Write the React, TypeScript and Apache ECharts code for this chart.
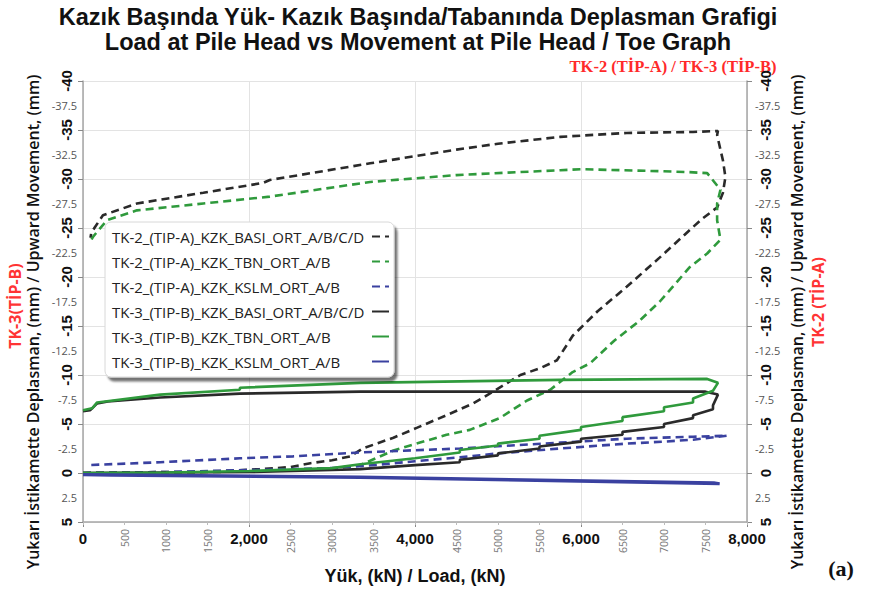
import React, { useEffect, useRef } from "react";
import * as echarts from "echarts";

// ---- Load (kN) / displacement (mm) readings, negative = upward ----
// TK-2 (TİP-A) pile head
const tk2BasiLoad = [0, 500, 1000, 1330, 1800, 2130, 2500, 2740, 3000, 3220, 3370, 3740, 4020, 4380, 4700, 4940, 5270, 5510, 5710, 5900, 6200, 6550, 6950, 7350, 7470, 7640, 7710, 7740, 7710, 7680, 7640, 7650, 7350, 6550, 5750, 5000, 4500, 3460, 2250, 2170, 1450, 650, 240, 145, 100, 90];
const tk2BasiDisp = [0, -0.05, -0.1, -0.1, -0.25, -0.4, -0.6, -1.0, -1.3, -1.7, -2.5, -3.6, -4.6, -5.9, -7.1, -8.3, -10.0, -10.7, -11.5, -14.0, -16.5, -19.0, -22.0, -25.1, -26.0, -27.1, -28.6, -30.2, -31.9, -33.0, -34.5, -34.9, -34.8, -34.7, -34.3, -33.6, -33.0, -31.6, -29.9, -29.6, -28.6, -27.5, -26.3, -25.1, -24.5, -24.0];

// TK-2 (TİP-A) pile toe
const tk2TbnLoad = [0, 1000, 2000, 2530, 3000, 3340, 3500, 3740, 4060, 4380, 4660, 5020, 5350, 5630, 5900, 6110, 6400, 6700, 6950, 7310, 7520, 7680, 7640, 7640, 7680, 7520, 7300, 6950, 6000, 5750, 4500, 3460, 2250, 1450, 650, 290, 170, 120, 90];
const tk2TbnDisp = [0, -0.05, -0.15, -0.3, -0.45, -0.8, -1.4, -2.3, -3.1, -3.9, -4.4, -5.6, -7.4, -8.5, -10.3, -11.2, -13.5, -15.5, -17.5, -21.0, -22.4, -23.8, -25.8, -27.5, -28.9, -30.6, -30.7, -30.8, -31.0, -30.9, -30.4, -29.7, -28.2, -27.5, -26.8, -25.8, -24.6, -24.1, -23.6];

// TK-2 (TİP-A) shortening
const tk2KslmLoad = [0, 1000, 2000, 3000, 3500, 4000, 4540, 5000, 5750, 6550, 7000, 7350, 7760, 7350, 6550, 5750, 4540, 3340, 2530, 1890, 930, 50];
const tk2KslmDisp = [0, -0.1, -0.3, -0.5, -0.8, -1.2, -1.6, -2.0, -2.5, -3.0, -3.2, -3.4, -3.8, -3.7, -3.5, -3.1, -2.5, -2.1, -1.7, -1.5, -1.1, -0.8];

// TK-3 (TİP-B) pile head
const tk3BasiLoad = [0, 1000, 2000, 3000, 3340, 4000, 4540, 4540, 5000, 5000, 5500, 5500, 6000, 6000, 6500, 6500, 7000, 7000, 7350, 7350, 7590, 7590, 7650, 7500, 6000, 3340, 1890, 930, 300, 170, 110, 85, 0];
const tk3BasiDisp = [0, -0.05, -0.1, -0.3, -0.4, -0.8, -1.1, -1.35, -1.8, -2.0, -2.5, -2.7, -3.2, -3.5, -3.9, -4.2, -4.7, -5.0, -5.6, -5.9, -6.5, -6.9, -8.0, -8.3, -8.3, -8.3, -8.1, -7.7, -7.3, -7.1, -6.6, -6.4, -6.3];

// TK-3 (TİP-B) pile toe
const tk3TbnLoad = [0, 1000, 2000, 3000, 3340, 4000, 4540, 4540, 5000, 5000, 5500, 5500, 6000, 6000, 6500, 6500, 7000, 7000, 7350, 7350, 7590, 7650, 7520, 5750, 3340, 1890, 1890, 930, 170, 110, 0];
const tk3TbnDisp = [0, -0.05, -0.2, -0.5, -0.9, -1.5, -2.1, -2.35, -2.8, -3.0, -3.5, -3.8, -4.4, -4.7, -5.3, -5.7, -6.3, -6.7, -7.2, -7.6, -8.4, -9.2, -9.6, -9.5, -9.2, -8.7, -8.5, -8.0, -7.2, -6.6, -6.4];

// TK-3 (TİP-B) shortening
const tk3KslmLoad = [0, 3340, 7670, 7600, 3340, 0];
const tk3KslmDisp = [0.2, 0.45, 1.1, 1.0, 0.4, 0.15];

const seriesNames = [
  "TK-2_(TIP-A)_KZK_BASI_ORT_A/B/C/D",
  "TK-2_(TIP-A)_KZK_TBN_ORT_A/B",
  "TK-2_(TIP-A)_KZK_KSLM_ORT_A/B",
  "TK-3_(TIP-B)_KZK_BASI_ORT_A/B/C/D",
  "TK-3_(TIP-B)_KZK_TBN_ORT_A/B",
  "TK-3_(TIP-B)_KZK_KSLM_ORT_A/B",
];

const titleLines = [
  "Kazık Başında Yük- Kazık Başında/Tabanında Deplasman Grafigi",
  "Load at Pile Head vs Movement at Pile Head / Toe Graph",
];
const xAxisTitle = "Yük, (kN) / Load, (kN)";
const yAxisTitle = "Yukarı İstikamette Deplasman, (mm) / Upward Movement, (mm)";

const BLACK = "#2a2a2a";
const GREEN = "#2f9a3c";
const BLUE = "#3a41a0";
const SANS = "'Liberation Sans', Arial, sans-serif";
const CAL = "'Open Sans', 'Noto Sans', sans-serif";
const SERIF = "'Liberation Serif', 'Times New Roman', serif";

const pairs = (xs: number[], ys: number[]) => xs.map((x, i) => [x, ys[i]]);

export default function App() {
  const ref = useRef<HTMLDivElement>(null);

  useEffect(() => {
    if (!ref.current) return;
    const chart = echarts.init(ref.current, null, { renderer: "svg" });

    const lineSeries = (name: string, data: number[][], color: string, dashed: boolean, width = 2.6) => ({
      name,
      type: "line",
      data,
      symbol: "none",
      showSymbol: false,
      smooth: false,
      xAxisIndex: 0,
      yAxisIndex: 0,
      lineStyle: { color, width, type: dashed ? [8, 5] : "solid" },
      itemStyle: { color },
      z: 3,
    });

    const majorY = {
      type: "value",
      inverse: true,
      min: -40,
      max: 5,
      interval: 5,
      axisLine: { show: true, onZero: false, lineStyle: { color: "#a6a6a6", width: 1.5 } },
      axisTick: { show: true, length: 5, lineStyle: { color: "#888" } },
      axisLabel: {
        rotate: 90,
        fontSize: 15,
        fontWeight: "bold",
        fontFamily: SANS,
        color: "#111",
        formatter: (v: number) => String(v),
      },
    };
    const minorY = {
      type: "value",
      inverse: true,
      min: -40,
      max: 5,
      interval: 2.5,
      axisLine: { show: false },
      axisTick: { show: false },
      splitLine: { show: false },
      axisLabel: {
        fontSize: 11,
        fontFamily: CAL,
        color: "#555",
        formatter: (v: number) => (v % 5 === 0 ? "" : String(v)),
      },
    };

    chart.setOption({
      animation: false,
      backgroundColor: "#ffffff",
      title: {
        text: titleLines.join("\n"),
        left: 413,
        top: -1,
        textAlign: "center",
        textStyle: { fontFamily: SANS, fontWeight: "bold", fontSize: 23.5, lineHeight: 25, color: "#111" },
      },
      grid: { left: 83, right: 144, top: 81, bottom: 69, containLabel: false },
      legend: {
        orient: "vertical",
        left: 105,
        top: 222,
        align: "right",
        data: seriesNames,
        itemWidth: 17,
        itemHeight: 14,
        itemGap: 10,
        padding: [7, 4, 8, 7],
        backgroundColor: "#ffffff",
        borderColor: "#d8d8d8",
        borderWidth: 1,
        borderRadius: 6,
        shadowColor: "rgba(0,0,0,0.55)",
        shadowBlur: 2,
        shadowOffsetX: 3,
        shadowOffsetY: 4,
        itemStyle: { opacity: 0 },
        formatter: (name: string) => `{a|${name}}`,
        textStyle: {
          rich: { a: { width: 255, align: "left", fontSize: 15, lineHeight: 16, fontFamily: CAL, color: "#222" } },
        },
      },
      xAxis: [
        {
          type: "value",
          min: 0,
          max: 8000,
          interval: 2000,
          position: "bottom",
          name: xAxisTitle,
          nameLocation: "middle",
          nameGap: 45,
          nameTextStyle: { fontFamily: SANS, fontWeight: "bold", fontSize: 18, color: "#111" },
          axisLine: { show: true, onZero: false, lineStyle: { color: "#a6a6a6", width: 1.5 } },
          axisTick: { show: true, length: 5, lineStyle: { color: "#888" } },
          splitLine: { show: true, lineStyle: { color: "#e3e3e3" } },
          axisLabel: {
            margin: 9,
            fontSize: 15,
            fontWeight: "bold",
            fontFamily: SANS,
            color: "#111",
            formatter: (v: number) => v.toLocaleString("en-US"),
          },
        },
        {
          type: "value",
          min: 0,
          max: 8000,
          interval: 500,
          position: "bottom",
          axisLine: { show: false, onZero: false },
          axisTick: { show: true, length: 3, lineStyle: { color: "#bbb" } },
          splitLine: { show: false },
          axisLabel: {
            rotate: 90,
            margin: 7,
            fontSize: 10.5,
            fontFamily: CAL,
            color: "#777",
            formatter: (v: number) => (v % 2000 === 0 ? "" : String(v)),
          },
        },
      ],
      yAxis: [
        {
          ...majorY,
          position: "left",
          splitLine: { show: true, lineStyle: { color: "#e3e3e3" } },
          axisLabel: { ...majorY.axisLabel, margin: 9 },
        },
        { ...minorY, position: "left", axisLabel: { ...minorY.axisLabel, margin: 6 } },
        {
          ...majorY,
          position: "right",
          splitLine: { show: false },
          axisLabel: { ...majorY.axisLabel, margin: 11 },
        },
        { ...minorY, position: "right", axisLabel: { ...minorY.axisLabel, margin: 8 } },
      ],
      series: [
        lineSeries(seriesNames[0], pairs(tk2BasiLoad, tk2BasiDisp), BLACK, true),
        lineSeries(seriesNames[1], pairs(tk2TbnLoad, tk2TbnDisp), GREEN, true),
        lineSeries(seriesNames[2], pairs(tk2KslmLoad, tk2KslmDisp), BLUE, true),
        lineSeries(seriesNames[3], pairs(tk3BasiLoad, tk3BasiDisp), BLACK, false),
        lineSeries(seriesNames[4], pairs(tk3TbnLoad, tk3TbnDisp), GREEN, false),
        lineSeries(seriesNames[5], pairs(tk3KslmLoad, tk3KslmDisp), BLUE, false, 3),
      ],
      graphic: [
        {
          type: "text",
          x: 673,
          y: 66,
          style: {
            text: "TK-2 (TİP-A) / TK-3 (TİP-B)",
            fill: "#ff2a2a",
            font: `bold 16.5px ${SERIF}`,
            align: "center",
            verticalAlign: "middle",
          },
        },
        {
          type: "text",
          x: 33,
          y: 322,
          rotation: Math.PI / 2,
          style: { text: yAxisTitle, fill: "#111", font: `600 16px ${CAL}`, align: "center", verticalAlign: "middle" },
        },
        {
          type: "text",
          x: 15,
          y: 306,
          rotation: Math.PI / 2,
          style: { text: "TK-3(TİP-B)", fill: "#ff3434", font: `bold 16px ${CAL}`, align: "center", verticalAlign: "middle" },
        },
        {
          type: "text",
          x: 797,
          y: 322,
          rotation: Math.PI / 2,
          style: { text: yAxisTitle, fill: "#111", font: `600 16px ${CAL}`, align: "center", verticalAlign: "middle" },
        },
        {
          type: "text",
          x: 818,
          y: 302,
          rotation: Math.PI / 2,
          style: { text: "TK-2 (TİP-A)", fill: "#ff3434", font: `bold 16px ${CAL}`, align: "center", verticalAlign: "middle" },
        },
        {
          type: "text",
          x: 841,
          y: 568,
          style: { text: "(a)", fill: "#111", font: `bold 22px ${SERIF}`, align: "center", verticalAlign: "middle" },
        },
      ],
    });

    return () => chart.dispose();
  }, []);

  return <div ref={ref} style={{ width: 891, height: 591, position: "absolute", left: 0, top: 0 }} />;
}
